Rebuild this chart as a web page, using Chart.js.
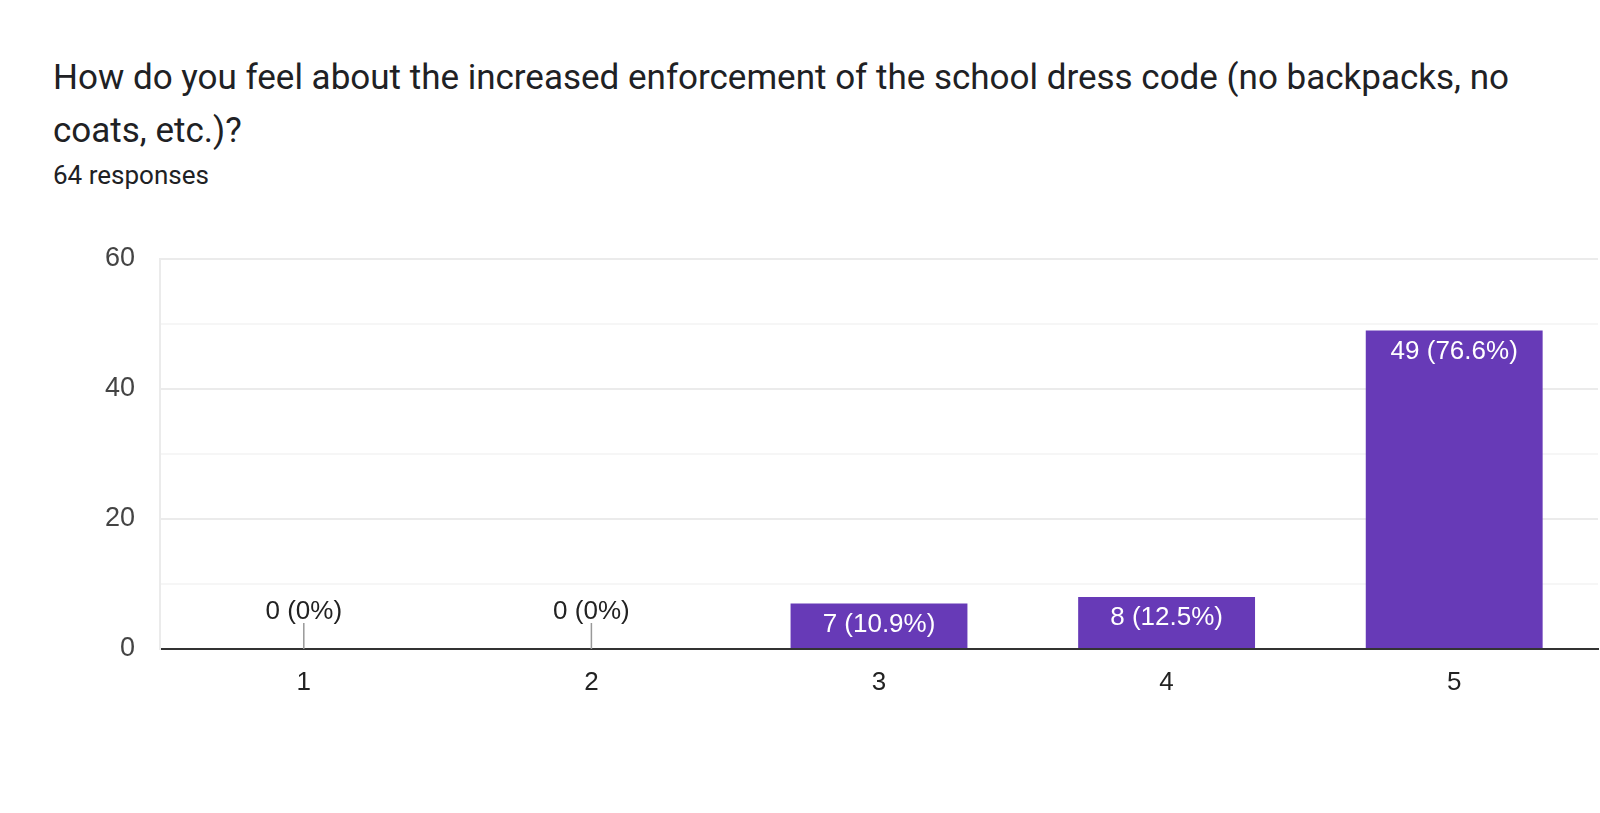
<!DOCTYPE html>
<html>
<head>
<meta charset="utf-8">
<script src="https://cdn.jsdelivr.net/npm/chart.js@4"></script>
<style>
  html, body { margin: 0; padding: 0; background: #fff; }
  body { width: 1600px; height: 813px; position: relative; overflow: hidden; font-family: Roboto, sans-serif; }
  #title { position: absolute; left: 53px; top: 51px; width: 1540px; font-size: 35px; line-height: 53px; color: #202124; white-space: nowrap; }
  #sub { position: absolute; left: 53px; top: 160px; font-size: 26px; line-height: 30px; color: #202124; }
  #wrap { position: absolute; left: 0; top: 0; width: 1600px; height: 813px; }
</style>
</head>
<body>
<div id="title">How do you feel about the increased enforcement of the school dress code (no backpacks, no<br>coats, etc.)?</div>
<div id="sub">64 responses</div>
<div id="wrap"><canvas id="c"></canvas></div>
<script>
const categories = ["1", "2", "3", "4", "5"];
const counts = [0, 0, 7, 8, 49];
const percents = ["0%", "0%", "10.9%", "12.5%", "76.6%"];
const yTicks = [0, 20, 40, 60];

// value labels on / above the bars
const barLabels = {
    id: "barLabels",
    afterDatasetsDraw(chart) {
        const ctx = chart.ctx;
        const meta = chart.getDatasetMeta(0);
        const base = chart.scales.y.getPixelForValue(0);
        ctx.save();
        ctx.font = "26px 'Liberation Sans', Arial, sans-serif";
        ctx.textAlign = "center";
        ctx.textBaseline = "middle";
        meta.data.forEach((bar, i) => {
            const text = counts[i] + " (" + percents[i] + ")";
            if (counts[i] === 0) {
                ctx.strokeStyle = "#999";
                ctx.lineWidth = 1.5;
                ctx.beginPath();
                ctx.moveTo(bar.x, base);
                ctx.lineTo(bar.x, base - 26);
                ctx.stroke();
                ctx.fillStyle = "#222";
                ctx.fillText(text, bar.x, base - 37);
            } else {
                ctx.fillStyle = "#fff";
                ctx.fillText(text, bar.x, bar.y + 21);
            }
        });
        ctx.restore();
    }
};

new Chart(document.getElementById("c"), {
    type: "bar",
    data: {
        labels: categories,
        datasets: [{
            data: counts,
            backgroundColor: "#673ab7",
            borderWidth: 0,
            categoryPercentage: 0.615,
            barPercentage: 1.0,
        }],
    },
    options: {
        responsive: true,
        maintainAspectRatio: false,
        animation: false,
        layout: { padding: { top: 259, right: 2, bottom: 104, left: 0 } },
        scales: {
            x: {
                grid: {
                    offset: true,
                    drawTicks: false,
                    color: (c) => (c.index === 0 || c.index === categories.length) ? "#ebebeb" : "rgba(0,0,0,0)",
                    lineWidth: 2,
                },
                border: { display: true, color: "#333", width: 2 },
                ticks: {
                    color: "#222",
                    font: { family: "'Liberation Sans', Arial, sans-serif", size: 26 },
                    padding: 18,
                },
                afterFit: (s) => { s.height = 60; },
            },
            y: {
                min: 0,
                max: 60,
                ticks: {
                    stepSize: 10,
                    color: "#444",
                    padding: 25,
                    font: { family: "'Liberation Sans', Arial, sans-serif", size: 27 },
                    callback: (v) => yTicks.includes(v) ? v : "",
                },
                grid: {
                    drawTicks: false,
                    color: (c) => yTicks.includes(c.tick.value) ? "#ebebeb" : "#f6f6f6",
                    lineWidth: 2,
                },
                border: { display: true, color: "#ebebeb", width: 2 },
                afterFit: (s) => { s.width = 160; },
            },
        },
        plugins: {
            legend: { display: false },
            tooltip: { enabled: false },
        },
    },
    plugins: [barLabels],
});
</script>
</body>
</html>
